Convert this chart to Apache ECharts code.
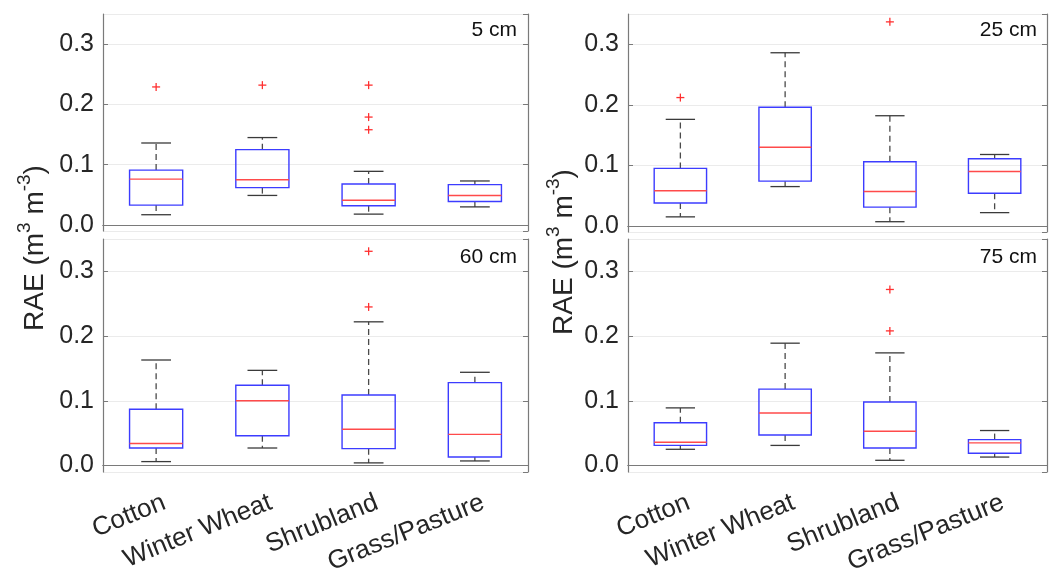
<!DOCTYPE html>
<html>
<head>
<meta charset="utf-8">
<script src="https://cdn.jsdelivr.net/npm/echarts@6/dist/echarts.min.js"></script>
<style>
  html, body { margin: 0; padding: 0; background: #fff; }
  #chart { width: 1050px; height: 577px; }
</style>
</head>
<body>
<div id="chart"></div>
<script>
// categories and panel names
const categories = ["Cotton", "Winter Wheat", "Shrubland", "Grass/Pasture"];
const depths = ["5 cm", "25 cm", "60 cm", "75 cm"];
const yTicks = [0, 0.1, 0.2, 0.3];

// box stats per category: [min, q1, median, q3, max]
const box5 = [
  [0.017, 0.033, 0.076, 0.091, 0.136],
  [0.049, 0.062, 0.075, 0.125, 0.145],
  [0.018, 0.032, 0.041, 0.068, 0.089],
  [0.030, 0.039, 0.049, 0.067, 0.073]
];
const box25 = [
  [0.015, 0.038, 0.058, 0.095, 0.176],
  [0.065, 0.074, 0.130, 0.196, 0.286],
  [0.007, 0.031, 0.057, 0.106, 0.182],
  [0.022, 0.054, 0.090, 0.111, 0.118]
];
const box60 = [
  [0.006, 0.027, 0.034, 0.087, 0.163],
  [0.027, 0.046, 0.100, 0.124, 0.147],
  [0.004, 0.026, 0.056, 0.109, 0.222],
  [0.007, 0.013, 0.048, 0.128, 0.144]
];
const box75 = [
  [0.025, 0.031, 0.036, 0.066, 0.089],
  [0.031, 0.047, 0.081, 0.118, 0.189],
  [0.008, 0.027, 0.053, 0.098, 0.174],
  [0.013, 0.019, 0.035, 0.040, 0.054]
];

// outliers: [category index, value]
const out5 = [[0, 0.229], [1, 0.232], [2, 0.232], [2, 0.179], [2, 0.158]];
const out25 = [[0, 0.212], [2, 0.337]];
const out60 = [[2, 0.331], [2, 0.245]];
const out75 = [[2, 0.272], [2, 0.208]];

const FONT = "'Liberation Sans', Arial, sans-serif";
const frameColor = "#7a7a7a";

const grids = [
  { left: 103, top: 14, width: 425, height: 217 },
  { left: 628, top: 14, width: 419, height: 218 },
  { left: 103, top: 239, width: 425, height: 235 },
  { left: 628, top: 239, width: 419, height: 233 }
];
const boxes = [box5, box25, box60, box75];
const outliers = [out5, out25, out60, out75];

function renderBox(params, api) {
  const i = api.value(0);
  const lo = api.coord([i, api.value(1)]);
  const q1 = api.coord([i, api.value(2)]);
  const md = api.coord([i, api.value(3)]);
  const q3 = api.coord([i, api.value(4)]);
  const hi = api.coord([i, api.value(5)]);
  const band = api.size([1, 0])[0];
  const bw = band * 0.5;
  const cw = band * 0.28;
  const x = lo[0];
  const dash = { stroke: "#4a4a4a", lineWidth: 1.3, lineDash: [6, 4] };
  const cap = { stroke: "#3a3a3a", lineWidth: 1.3 };
  return {
    type: "group",
    children: [
      { type: "line", shape: { x1: x, y1: q3[1], x2: x, y2: hi[1] }, style: dash },
      { type: "line", shape: { x1: x, y1: q1[1], x2: x, y2: lo[1] }, style: dash },
      { type: "line", shape: { x1: x - cw / 2, y1: hi[1], x2: x + cw / 2, y2: hi[1] }, style: cap },
      { type: "line", shape: { x1: x - cw / 2, y1: lo[1], x2: x + cw / 2, y2: lo[1] }, style: cap },
      {
        type: "rect",
        shape: { x: x - bw / 2, y: q3[1], width: bw, height: q1[1] - q3[1] },
        style: { fill: "none", stroke: "#3c3cff", lineWidth: 1.4 }
      },
      {
        type: "line",
        shape: { x1: x - bw / 2, y1: md[1], x2: x + bw / 2, y2: md[1] },
        style: { stroke: "#ff4a4a", lineWidth: 1.4 }
      }
    ]
  };
}

function renderPlus(params, api) {
  const p = api.coord([api.value(0), api.value(1)]);
  const r = 4;
  const st = { stroke: "#ff3030", lineWidth: 1.3 };
  return {
    type: "group",
    children: [
      { type: "line", shape: { x1: p[0] - r, y1: p[1], x2: p[0] + r, y2: p[1] }, style: st },
      { type: "line", shape: { x1: p[0], y1: p[1] - r, x2: p[0], y2: p[1] + r }, style: st }
    ]
  };
}

const xAxes = [];
const yAxes = [];
const series = [];
grids.forEach((g, k) => {
  const showLabels = k >= 2;
  xAxes.push({
    type: "category",
    gridIndex: k,
    data: categories,
    position: "bottom",
    axisLine: { lineStyle: { color: frameColor, width: 1.2 } },
    axisTick: { inside: true, alignWithLabel: true, length: 5, lineStyle: { color: frameColor } },
    axisLabel: {
      show: showLabels,
      rotate: 22,
      margin: 33,
      padding: [0, -9, 0, 0],
      fontSize: 26,
      fontFamily: FONT,
      color: "#262626"
    },
    splitLine: { show: false }
  });
  xAxes.push({
    type: "category",
    gridIndex: k,
    data: categories,
    position: "top",
    axisLine: { lineStyle: { color: frameColor, width: 1.2 } },
    axisTick: { inside: true, alignWithLabel: true, length: 5, lineStyle: { color: frameColor } },
    axisLabel: { show: false }
  });
  yAxes.push({
    type: "value",
    gridIndex: k,
    min: -0.01,
    max: 0.35,
    splitNumber: 4,
    position: "left",
    axisLine: { show: true, lineStyle: { color: frameColor, width: 1.2 } },
    axisTick: { show: true, inside: true, length: 5, lineStyle: { color: frameColor } },
    axisLabel: {
      showMinLabel: false,
      showMaxLabel: false,
      margin: 9,
      fontSize: 25,
      fontFamily: FONT,
      color: "#262626",
      formatter: v => yTicks.some(t => Math.abs(t - v) < 1e-6) ? v.toFixed(1) : ""
    },
    splitLine: { show: true, lineStyle: { color: "#ebebeb", width: 1 } }
  });
  yAxes.push({
    type: "value",
    gridIndex: k,
    min: -0.01,
    max: 0.35,
    splitNumber: 4,
    position: "right",
    axisLine: { show: true, lineStyle: { color: frameColor, width: 1.2 } },
    axisTick: { show: true, inside: true, length: 5, lineStyle: { color: frameColor } },
    axisLabel: { show: false },
    splitLine: { show: false }
  });
  series.push({
    type: "custom",
    xAxisIndex: 2 * k,
    yAxisIndex: 2 * k,
    renderItem: renderBox,
    encode: { x: 0, y: [1, 2, 3, 4, 5] },
    data: boxes[k].map((b, i) => [i].concat(b)),
    z: 3
  });
  series.push({
    type: "custom",
    xAxisIndex: 2 * k,
    yAxisIndex: 2 * k,
    renderItem: renderPlus,
    encode: { x: 0, y: 1 },
    data: outliers[k],
    z: 4
  });
});

const yName = "{a|RAE (m}{s|3}{a| m}{s|-3}{a|)}";
const yNameRich = {
  a: { fontSize: 28, fontFamily: FONT, fill: "#262626", verticalAlign: "bottom", lineHeight: 34 },
  s: { fontSize: 19, fontFamily: FONT, fill: "#262626", verticalAlign: "top", lineHeight: 34 }
};

const chart = echarts.init(document.getElementById("chart"));
chart.setOption({
  animation: false,
  backgroundColor: "#fff",
  grid: grids,
  xAxis: xAxes,
  yAxis: yAxes,
  series: series,
  graphic: [
    { type: "text", x: 517, y: 41, style: { text: depths[0], fontSize: 21, fontFamily: FONT, fill: "#111", align: "right", verticalAlign: "bottom" } },
    { type: "text", x: 1037, y: 41, style: { text: depths[1], fontSize: 21, fontFamily: FONT, fill: "#111", align: "right", verticalAlign: "bottom" } },
    { type: "text", x: 517, y: 268, style: { text: depths[2], fontSize: 21, fontFamily: FONT, fill: "#111", align: "right", verticalAlign: "bottom" } },
    { type: "text", x: 1037, y: 268, style: { text: depths[3], fontSize: 21, fontFamily: FONT, fill: "#111", align: "right", verticalAlign: "bottom" } },
    { type: "text", x: 32, y: 248, rotation: Math.PI / 2, style: { text: yName, rich: yNameRich, align: "center", verticalAlign: "middle" } },
    { type: "text", x: 561, y: 252, rotation: Math.PI / 2, style: { text: yName, rich: yNameRich, align: "center", verticalAlign: "middle" } }
  ]
});
</script>
</body>
</html>
